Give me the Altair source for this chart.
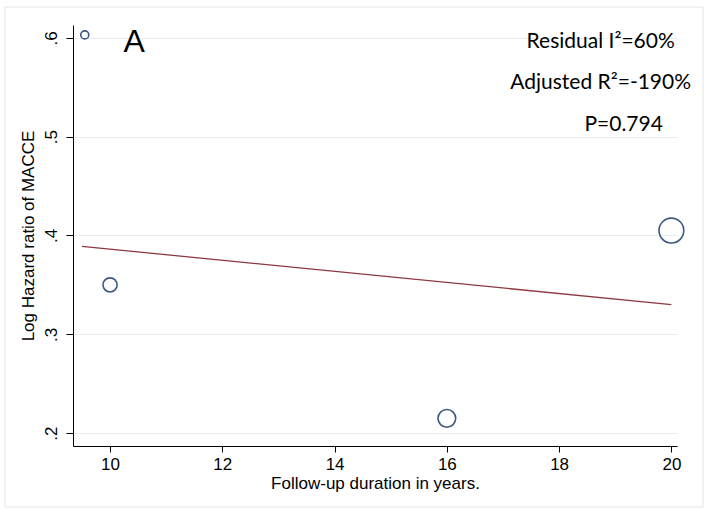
import altair as alt
import pandas as pd

# Study points
follow_up = [9.55, 10, 16, 20]
log_hr = [0.603, 0.350, 0.215, 0.405]
weight = [10, 31, 49, 96]

# Meta-regression fit line
fit_x = [9.5, 20]
fit_y = [0.389, 0.330]

# Annotations
ann_text = ["Residual I\u00b2=60%", "Adjusted R\u00b2=-190%", "P=0.794"]
ann_x = [18.74, 18.74, 19.15]
ann_y = [0.596, 0.554, 0.512]

y_ticks = [0.2, 0.3, 0.4, 0.5, 0.6]
x_ticks = [10, 12, 14, 16, 18, 20]

pts = pd.DataFrame({"x": follow_up, "y": log_hr, "w": weight})
fit = pd.DataFrame({"x": fit_x, "y": fit_y})
ann = pd.DataFrame({"t": ann_text, "x": ann_x, "y": ann_y})
lab = pd.DataFrame({"t": ["A"], "x": [10.43], "y": [0.596]})

FONT = "Arial"
xs = alt.Scale(domain=[9.34, 20.1], nice=False, zero=False)
ys = alt.Scale(domain=[0.187, 0.613], nice=False, zero=False)

xenc = alt.X("x:Q", scale=xs, axis=alt.Axis(
    values=x_ticks, format="d", title="Follow-up duration in years.", grid=False,
    domainColor="black", tickColor="black", tickSize=6, labelFont=FONT,
    labelFontSize=17, labelColor="black", titleFont=FONT, titleFontSize=17,
    titleFontWeight="normal", titleColor="black", labelPadding=4, titlePadding=3))
yenc = alt.Y("y:Q", scale=ys, axis=alt.Axis(
    values=y_ticks, title="Log Hazard ratio of MACCE", grid=True,
    gridColor="#e6eff0", gridWidth=1, domainColor="black", tickColor="black",
    tickSize=7, labelAngle=270, labelFont=FONT, labelFontSize=17,
    labelColor="black", labelExpr="replace(format(datum.value,'.1f'),'0.','.')",
    titleFont=FONT, titleFontSize=17, titleFontWeight="normal",
    titleColor="black", labelPadding=6, titlePadding=5))

frame = alt.Chart(pd.DataFrame({"a": [0]})).mark_rect(
    fill=None, stroke="#e4e4e4", strokeWidth=1).encode(
    x=alt.value(-68), x2=alt.value(630), y=alt.value(-18), y2=alt.value(482))

line = alt.Chart(fit).mark_line(color="#8c3a3f", strokeWidth=1.3).encode(x=xenc, y=yenc)

points = alt.Chart(pts).mark_point(shape="circle", filled=False, color="#3c5886",
                                   strokeWidth=1.6, opacity=1).encode(
    x=alt.X("x:Q", scale=xs), y=alt.Y("y:Q", scale=ys),
    size=alt.Size("w:Q", scale=alt.Scale(domain=[0, 100], range=[0, 640]), legend=None))

texts = alt.Chart(ann).mark_text(font="Lato", fontSize=21, color="black", align="center",
                                 baseline="middle").encode(
    x=alt.X("x:Q", scale=xs), y=alt.Y("y:Q", scale=ys), text="t:N")

letter = alt.Chart(lab).mark_text(font=FONT, fontSize=32, color="black",
                                  align="center", baseline="middle").encode(
    x=alt.X("x:Q", scale=xs), y=alt.Y("y:Q", scale=ys), text="t:N")

chart = alt.layer(frame, line, points, texts, letter).properties(
    width=604, height=421,
    autosize=alt.AutoSizeParams(type="none"),
    padding={"left": 73, "top": 25, "right": 31, "bottom": 70},
    background="white",
).configure_view(stroke=None)

chart.save("out.html", embed_options={"renderer": "svg", "actions": False})
